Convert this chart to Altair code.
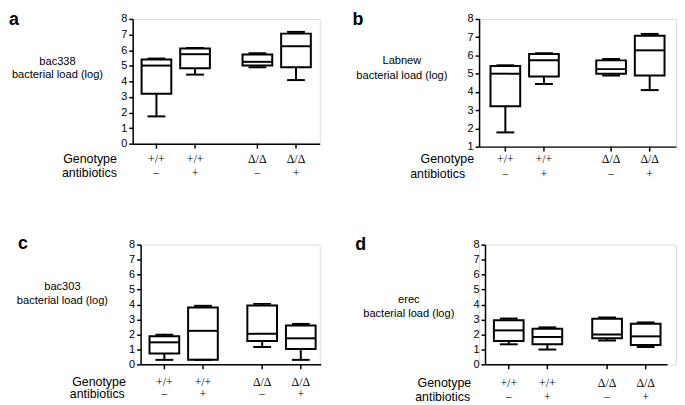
import altair as alt
import pandas as pd

# ---- data ----
genotype = ["+/+", "+/+", "Δ/Δ", "Δ/Δ"]
antibiotics = ["−", "+", "−", "+"]
row_labels = ["Genotype", "antibiotics"]
y_common = "bacterial load (log)"
names = ["bac338", "Labnew", "bac303", "erec"]

# bac338 (panel a) and Labnew (panel b)
a_min = [1.75, 4.43, 4.90, 4.08]
a_q1 = [3.20, 4.84, 5.01, 4.90]
a_med = [5.01, 5.74, 5.25, 6.25]
a_q3 = [5.40, 6.10, 5.72, 7.06]
a_max = [5.46, 6.14, 5.80, 7.17]

b_min = [1.78, 4.43, 4.90, 4.10]
b_q1 = [3.21, 4.85, 5.00, 4.90]
b_med = [5.00, 5.74, 5.25, 6.28]
b_q3 = [5.42, 6.08, 5.73, 7.08]
b_max = [5.46, 6.12, 5.80, 7.18]

# bac303 (panel c)
c_min = [0.30, 0.30, 1.16, 0.30]
c_q1 = [0.72, 0.30, 1.56, 1.03]
c_med = [1.47, 2.24, 2.04, 1.74]
c_q3 = [1.87, 3.80, 3.93, 2.59]
c_max = [1.98, 3.91, 4.04, 2.70]

# erec (panel d)
d_min = [1.34, 0.99, 1.59, 1.16]
d_q1 = [1.56, 1.34, 1.74, 1.30]
d_med = [2.27, 1.83, 2.00, 1.87]
d_q3 = [2.95, 2.38, 3.04, 2.71]
d_max = [3.06, 2.47, 3.13, 2.80]


def band_params(W, p, box):
    p1, p2, p3, p4 = p
    s = ((p2 - p1) + (p4 - p3)) / 2
    c1 = (p1 + p2) / 2
    c2 = (p3 + p4) / 2
    S = c2 - c1
    B = 2 * min(c1, W - c2)
    pi = 1 - B / S
    O = W - S - B
    L = c1 - B / 2
    al = 0.5 if O <= 0.01 else min(1, max(0, L / O))
    po = max(0, O) / (2 * S)
    pi2 = 1 - box / s
    po2 = max(0, (B - s - box) / (2 * s))
    return pi, po, al, pi2, po2


def panel(letter, name, mins, q1s, meds, q3s, maxs, ymin, cellW, inset, W, H,
          p, box, gy, ay, gx, ax, tx, ty, lh, lx, ly):
    df = pd.DataFrame({
        "genotype": genotype, "antibiotics": antibiotics,
        "min": mins, "q1": q1s, "med": meds, "q3": q3s, "max": maxs,
    })
    pi, po, al, pi2, po2 = band_params(W, p, box)
    x = alt.X("genotype:N", sort=None,
              scale=alt.Scale(domain=["+/+", "Δ/Δ"], paddingInner=pi,
                              paddingOuter=po, align=al,
                              range=[inset, inset + W]),
              axis=alt.Axis(title=None, labels=False, ticks=False,
                            domain=True, domainColor="black", domainWidth=1.5))
    xo = alt.XOffset("antibiotics:N",
                     scale=alt.Scale(domain=["−", "+"], paddingInner=pi2,
                                     paddingOuter=po2))
    yscale = alt.Scale(domain=[ymin, 8], nice=False, zero=False)
    yaxis = alt.Axis(title=None, values=list(range(ymin, 9)), tickSize=4,
                     tickWidth=1.5, tickColor="black", domainColor="black",
                     domainWidth=1.5, labelFontSize=11, labelColor="black",
                     labelFont="Liberation Sans", labelPadding=2, grid=False,
                     labelOverlap=False, labelFlush=False, offset=-inset)
    base = alt.Chart(df)
    box_l = base.mark_bar(fill="white", stroke="black", strokeWidth=2,
                          opacity=1).encode(
        x=x, xOffset=xo,
        y=alt.Y("q1:Q", scale=yscale, axis=yaxis), y2="q3:Q")
    wlo = base.mark_rule(color="black", strokeWidth=2, opacity=1).encode(
        x=x, xOffset=xo, y=alt.Y("min:Q", axis=yaxis), y2="q1:Q")
    whi = base.mark_rule(color="black", strokeWidth=2, opacity=1).encode(
        x=x, xOffset=xo, y=alt.Y("q3:Q", axis=yaxis), y2="max:Q")
    med = base.mark_tick(color="black", thickness=2, size=box,
                         opacity=1).encode(
        x=x, xOffset=xo, y=alt.Y("med:Q", axis=yaxis))
    cap_lo = base.mark_tick(color="black", thickness=2, size=18,
                            opacity=1).encode(
        x=x, xOffset=xo, y=alt.Y("min:Q", axis=yaxis))
    cap_hi = base.mark_tick(color="black", thickness=2, size=18,
                            opacity=1).encode(
        x=x, xOffset=xo, y=alt.Y("max:Q", axis=yaxis))
    xticks = base.mark_rule(color="black", strokeWidth=1.5).encode(
        x=x, xOffset=xo, y=alt.value(H), y2=alt.value(H + 5))
    glab = base.mark_text(font="Liberation Serif", fontSize=12,
                          baseline="middle", color="black").encode(
        x=x, xOffset=xo, y=alt.value(H + gy), text="genotype:N")
    alab = base.mark_text(font="Liberation Serif", fontSize=12,
                          baseline="middle", color="black").encode(
        x=x, xOffset=xo, y=alt.value(H + ay), text="antibiotics:N")
    rl = pd.DataFrame({"label": row_labels})
    rlab1 = alt.Chart(rl).transform_filter(alt.datum.label == row_labels[0]).mark_text(
        font="Liberation Sans", fontSize=12.5, align="right",
        baseline="middle", color="black").encode(
        x=alt.value(inset + gx), y=alt.value(H + gy), text="label:N")
    rlab2 = alt.Chart(rl).transform_filter(alt.datum.label == row_labels[1]).mark_text(
        font="Liberation Sans", fontSize=12.5, align="right",
        baseline="middle", color="black").encode(
        x=alt.value(inset + ax), y=alt.value(H + ay), text="label:N")
    tdf = pd.DataFrame({"t": [name + "\n" + y_common], "letter": [letter]})
    title = alt.Chart(tdf).mark_text(
        font="Liberation Sans", fontSize=11.2, align="center", baseline="top",
        lineBreak="\n", lineHeight=lh, color="black").encode(
        x=alt.value(inset + tx), y=alt.value(ty), text="t:N")
    let = alt.Chart(tdf).mark_text(
        font="Liberation Sans", fontSize=18, fontWeight="bold", align="left",
        baseline="top", color="black").encode(
        x=alt.value(inset + lx), y=alt.value(ly), text="letter:N")
    return alt.layer(box_l, wlo, whi, med, cap_lo, cap_hi, xticks, glab,
                     alab, rlab1, rlab2, title, let).properties(width=cellW, height=H)


pa = panel("a", names[0], a_min, a_q1, a_med, a_q3, a_max, 0, 189, 0, 189, 126,
           [24, 63, 126, 165], 30, 16, 30, -16, -16, -76, 38, 13, -125, -8)
pb = panel("b", names[1], b_min, b_q1, b_med, b_q3, b_max, 1, 199, 0, 199, 129,
           [28, 66.7, 134.7, 173.7], 30, 13, 28, -5, -14, -78, 37, 15, -128, -8)
pc = panel("c", names[2], c_min, c_q1, c_med, c_q3, c_max, 0, 189, 8, 182, 121,
           [22.6, 59.3, 120.3, 159.3], 29.5, 17.7, 30.3, -15, -16, -79, 37, 14.5, -124, -10)
pd_ = panel("d", names[3], d_min, d_q1, d_med, d_q3, d_max, 0, 199, 6, 184, 121,
            [23, 60.4, 121.4, 160.7], 29.5, 18.7, 32.7, -14, -15, -77, 50, 14, -131, -9)

chart = alt.concat(pa, pb, pc, pd_, columns=2,
                   spacing={"row": 99, "column": 161},
                   bounds="flush").properties(
    padding={"left": 0, "top": 0, "right": 0, "bottom": 0}
).configure_view(stroke=None).configure(font="Liberation Sans").configure_axis(
    labelOverlap=False)

chart.save("out.html", embed_options={"renderer": "svg", "actions": False})
